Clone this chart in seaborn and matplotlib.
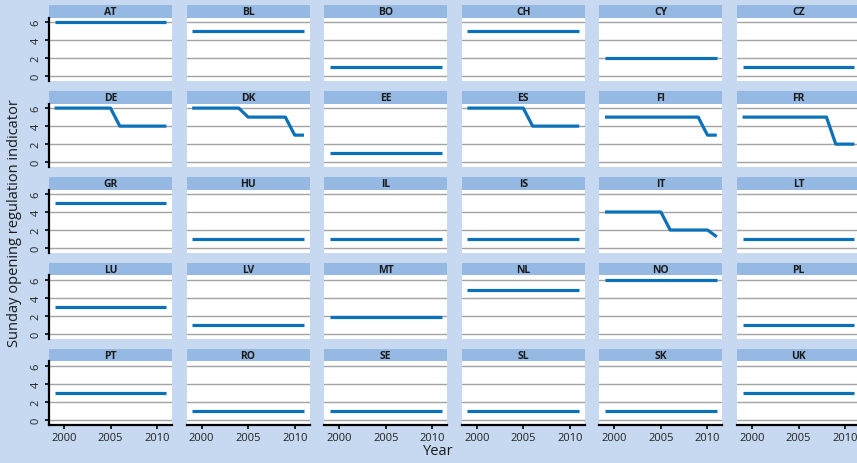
import matplotlib
matplotlib.use("Agg")
import matplotlib.pyplot as plt
from matplotlib.patches import Rectangle
import pandas as pd
import seaborn as sns

years = [1999, 2000, 2001, 2002, 2003, 2004, 2005, 2006, 2007, 2008, 2009, 2010, 2011]

countries = ["AT", "BL", "BO", "CH", "CY", "CZ",
             "DE", "DK", "EE", "ES", "FI", "FR",
             "GR", "HU", "IL", "IS", "IT", "LT",
             "LU", "LV", "MT", "NL", "NO", "PL",
             "PT", "RO", "SE", "SL", "SK", "UK"]

# Sunday opening regulation indicator by country, 1999-2011
AT = [6, 6, 6, 6, 6, 6, 6, 6, 6, 6, 6, 6, 6]
BL = [5, 5, 5, 5, 5, 5, 5, 5, 5, 5, 5, 5, 5]
BO = [1, 1, 1, 1, 1, 1, 1, 1, 1, 1, 1, 1, 1]
CH = [5, 5, 5, 5, 5, 5, 5, 5, 5, 5, 5, 5, 5]
CY = [2, 2, 2, 2, 2, 2, 2, 2, 2, 2, 2, 2, 2]
CZ = [1, 1, 1, 1, 1, 1, 1, 1, 1, 1, 1, 1, 1]
DE = [6, 6, 6, 6, 6, 6, 6, 4, 4, 4, 4, 4, 4]
DK = [6, 6, 6, 6, 6, 6, 5, 5, 5, 5, 5, 3, 3]
EE = [1, 1, 1, 1, 1, 1, 1, 1, 1, 1, 1, 1, 1]
ES = [6, 6, 6, 6, 6, 6, 6, 4, 4, 4, 4, 4, 4]
FI = [5, 5, 5, 5, 5, 5, 5, 5, 5, 5, 5, 3, 3]
FR = [5, 5, 5, 5, 5, 5, 5, 5, 5, 5, 2, 2, 2]
GR = [5, 5, 5, 5, 5, 5, 5, 5, 5, 5, 5, 5, 5]
HU = [1, 1, 1, 1, 1, 1, 1, 1, 1, 1, 1, 1, 1]
IL = [1, 1, 1, 1, 1, 1, 1, 1, 1, 1, 1, 1, 1]
IS = [1, 1, 1, 1, 1, 1, 1, 1, 1, 1, 1, 1, 1]
IT = [4, 4, 4, 4, 4, 4, 4, 2, 2, 2, 2, 2, 1.25]
LT = [1, 1, 1, 1, 1, 1, 1, 1, 1, 1, 1, 1, 1]
LU = [3, 3, 3, 3, 3, 3, 3, 3, 3, 3, 3, 3, 3]
LV = [1, 1, 1, 1, 1, 1, 1, 1, 1, 1, 1, 1, 1]
MT = [1.85, 1.85, 1.85, 1.85, 1.85, 1.85, 1.85, 1.85, 1.85, 1.85, 1.85, 1.85, 1.85]
NL = [4.85, 4.85, 4.85, 4.85, 4.85, 4.85, 4.85, 4.85, 4.85, 4.85, 4.85, 4.85, 4.85]
NO = [6, 6, 6, 6, 6, 6, 6, 6, 6, 6, 6, 6, 6]
PL = [1, 1, 1, 1, 1, 1, 1, 1, 1, 1, 1, 1, 1]
PT = [3, 3, 3, 3, 3, 3, 3, 3, 3, 3, 3, 3, 3]
RO = [1, 1, 1, 1, 1, 1, 1, 1, 1, 1, 1, 1, 1]
SE = [1, 1, 1, 1, 1, 1, 1, 1, 1, 1, 1, 1, 1]
SL = [1, 1, 1, 1, 1, 1, 1, 1, 1, 1, 1, 1, 1]
SK = [1, 1, 1, 1, 1, 1, 1, 1, 1, 1, 1, 1, 1]
UK = [3, 3, 3, 3, 3, 3, 3, 3, 3, 3, 3, 3, 3]

series = [AT, BL, BO, CH, CY, CZ, DE, DK, EE, ES, FI, FR, GR, HU, IL,
          IS, IT, LT, LU, LV, MT, NL, NO, PL, PT, RO, SE, SL, SK, UK]

x_ticks = [2000, 2005, 2010]
y_ticks = [0, 2, 4, 6]

rows = []
for code, vals in zip(countries, series):
    for yr, v in zip(years, vals):
        rows.append({"country": code, "year": yr, "value": v})
df = pd.DataFrame(rows)

BG = "#c6d9f0"
STRIP = "#95b9e3"
LINE = "#0b72b9"
FONT = ["Open Sans", "DejaVu Sans"]

sns.set_style("white")
plt.rcParams["font.family"] = FONT

W, H = 857, 464
g = sns.relplot(data=df, x="year", y="value", col="country", col_order=countries,
                col_wrap=6, kind="line", color=LINE, linewidth=2.3,
                height=1.0, aspect=1.0, facet_kws={"sharex": True, "sharey": True})
fig = g.figure
fig.set_size_inches(W / 100, H / 100)
fig.set_dpi(100)
fig.patch.set_facecolor(BG)

ncol, nrow = 6, 5
left0, col_pitch, ax_w = 49, 137.6, 123
top0, row_pitch, ax_h = 18.7, 85.9, 63.5
strip_h = 12.3

for i, (ax, code) in enumerate(zip(g.axes.flat, countries)):
    r, c = divmod(i, ncol)
    x0 = left0 + c * col_pitch
    y_top = top0 + r * row_pitch
    ax.set_position([x0 / W, 1 - (y_top + ax_h) / H, ax_w / W, ax_h / H])
    ax.set_facecolor("white")
    for ln in ax.get_lines():
        ln.set_solid_capstyle("butt")
        ln.set_zorder(3)
    ax.set_xlim(1998.4, 2011.6)
    ax.set_ylim(-0.55, 6.5)
    ax.set_xticks(x_ticks)
    ax.set_yticks(y_ticks)
    ax.set_axisbelow(True)
    ax.grid(axis="y", color="#a3a3a3", linewidth=1.0)
    ax.grid(axis="x", visible=False)
    ax.set_title("")
    ax.set_xlabel("")
    ax.set_ylabel("")
    for s in ("top", "right"):
        ax.spines[s].set_visible(False)
    first_col = c == 0
    last_row = r == nrow - 1
    ax.spines["left"].set_visible(first_col)
    ax.spines["bottom"].set_visible(last_row)
    ax.spines["left"].set_color("black")
    ax.spines["left"].set_linewidth(1.6)
    ax.spines["bottom"].set_color("black")
    ax.spines["bottom"].set_linewidth(1.6)
    ax.tick_params(axis="y", left=first_col, labelleft=first_col, length=3,
                   width=1.2, color="black", pad=2.5, labelsize=8,
                   labelcolor="#222222", direction="out")
    ax.tick_params(axis="x", bottom=last_row, labelbottom=last_row, length=3,
                   width=1.2, color="black", pad=2, labelsize=8,
                   labelcolor="#222222", direction="out")
    if first_col:
        for lab in ax.get_yticklabels():
            lab.set_rotation(90)
            lab.set_va("center")
    ax.add_patch(Rectangle((0, 1), 1, strip_h / ax_h, transform=ax.transAxes,
                           facecolor=STRIP, edgecolor="none", clip_on=False))
    ax.text(0.5, 1 + strip_h / ax_h / 2, code, transform=ax.transAxes,
            ha="center", va="center", fontsize=7.5, fontweight="bold",
            color="#1a1a1a")

fig.text(15 / W, 1 - 223 / H, "Sunday opening regulation indicator",
         rotation=90, ha="center", va="center", fontsize=10.5, color="#1a1a1a")
fig.text(438 / W, 1 - 452 / H, "Year", ha="center", va="center",
         fontsize=10.5, color="#1a1a1a")

fig.savefig("out.png", dpi=100, facecolor=BG)
